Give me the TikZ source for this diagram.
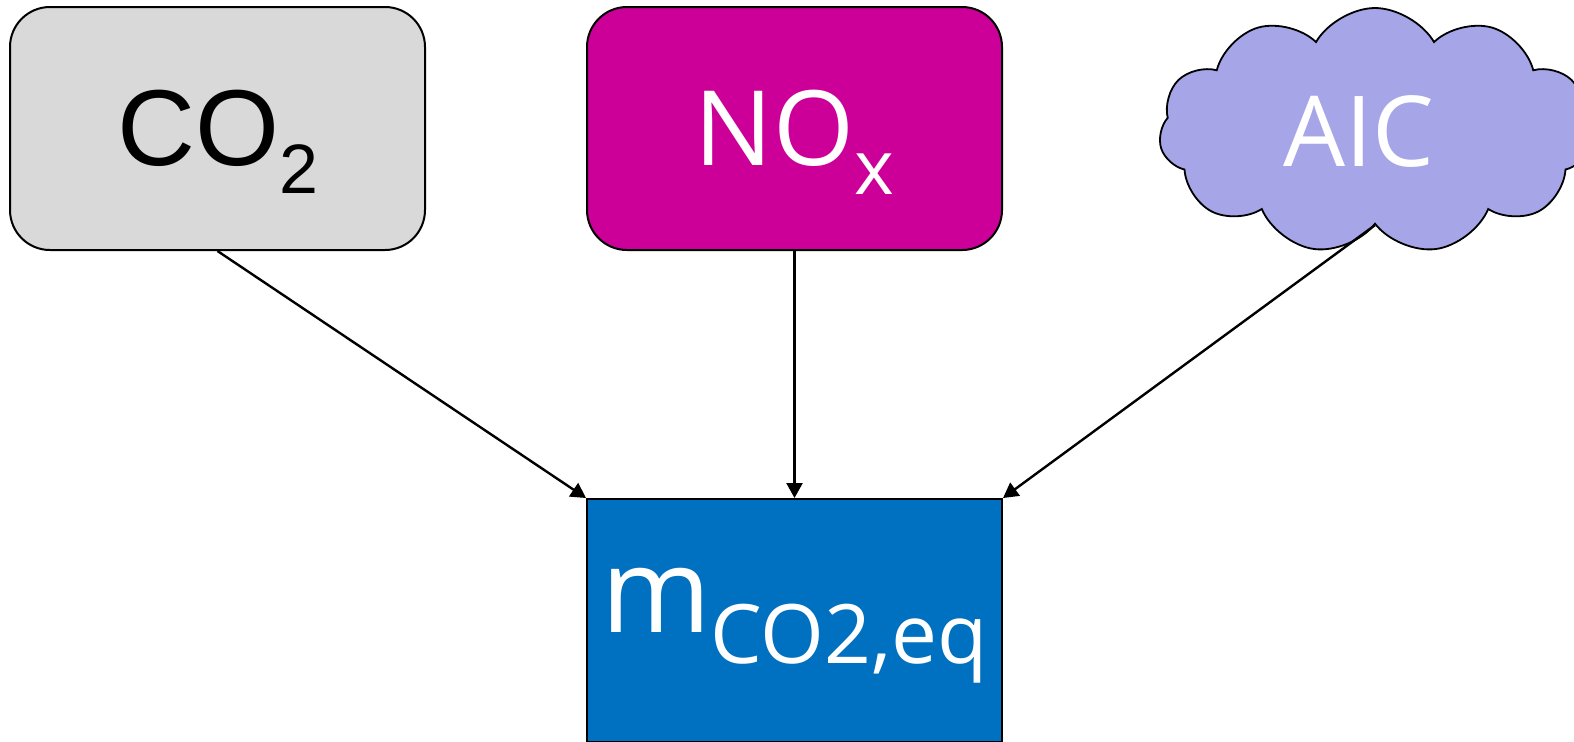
\documentclass[tikz,border=0pt]{standalone}
\usepackage{fontspec}
\setmainfont{Open Sans}
\newfontfamily\arialfont{Liberation Sans}
\usetikzlibrary{arrows.meta,shapes.symbols,positioning}

\definecolor{co2grey}{HTML}{D9D9D9}
\definecolor{noxmagenta}{HTML}{CC0099}
\definecolor{aiclilac}{HTML}{A5A5E8}
\definecolor{eqblue}{HTML}{0070C0}

\newcommand{\lowsub}[3]{\smash{\raisebox{-#1}{\fontsize{#2}{#2}\selectfont #3}}}

\begin{document}
\begin{tikzpicture}[x=0.5pt,y=-0.5pt,>={Triangle[length=7.5pt,width=8pt]},node distance=80pt,
		box/.style={draw=black,line width=1pt,minimum width=207.5pt,minimum height=121.5pt,inner sep=0pt,align=center},
		link/.style={->,line width=1.2pt}]
	\useasboundingbox (0,0) rectangle (1574,741);
	\node[box,rounded corners=20pt,fill=co2grey] (co2) at (217.5,128.5)
		{\arialfont\fontsize{54}{54}\selectfont CO\lowsub{14pt}{35}{2}};
	\node[box,rounded corners=20pt,fill=noxmagenta,text=white] [right=of co2] (nox)
		{\fontsize{52}{52}\selectfont NO\lowsub{14.5pt}{38}{x}};
	\node[cloud,cloud puffs=11,cloud puff arc=120,aspect=1.7,draw=black,line width=0.9pt,fill=aiclilac,text=white,
		minimum width=216pt,minimum height=123pt,inner sep=0pt] (aic) at (1375,131)
		{\fontsize{49}{49}\selectfont AIC\hspace*{16pt}};
	\node[box,fill=eqblue,text=white,text height=33pt,text depth=21.5pt] [below=123.5pt of nox] (mco2)
		{\fontsize{59}{59}\selectfont m\lowsub{15.5pt}{41}{CO2,eq}};
	\draw[link] (co2.south) -- (mco2.north west);
	\draw[link] (nox.south) -- (mco2.north);
	\draw[link] (aic.south) -- (mco2.north east);
\end{tikzpicture}
\end{document}
